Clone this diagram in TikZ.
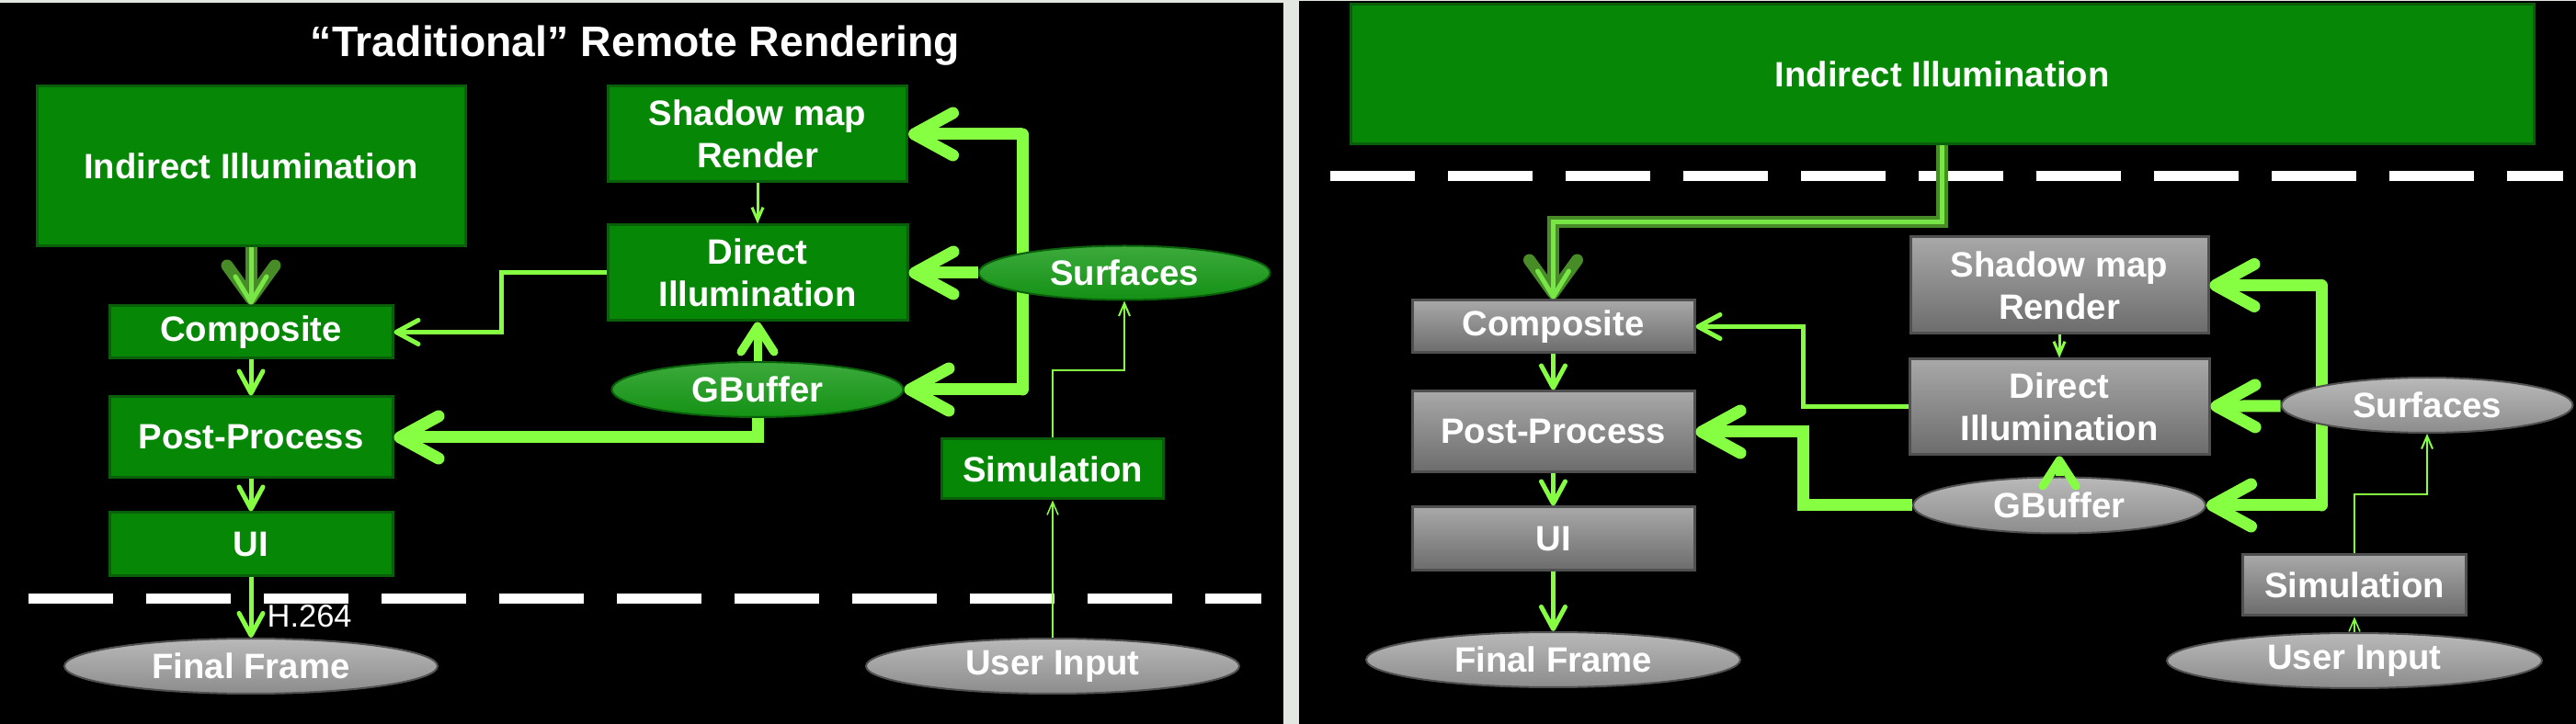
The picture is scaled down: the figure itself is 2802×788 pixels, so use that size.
\documentclass[tikz,border=0pt]{standalone}
\usepackage{fontspec}
\setmainfont{Liberation Sans}
\usetikzlibrary{arrows.meta,shapes.geometric}
\definecolor{lime}{RGB}{134,255,66}
\definecolor{blockgreen}{RGB}{6,136,6}
\definecolor{blockedge}{RGB}{10,95,10}
\definecolor{grayhi}{RGB}{168,168,168}
\definecolor{graylo}{RGB}{108,108,108}
\definecolor{grayedge}{RGB}{80,80,80}
\definecolor{gapgray}{RGB}{227,231,225}
\definecolor{linkdark}{RGB}{72,140,40}
\definecolor{linklight}{RGB}{120,230,70}
\newcommand\blockfont{\fontsize{10.9}{13}\selectfont\bfseries}
\tikzset{%
    every block/.style={
      rectangle,
      draw=blockedge,
      line width=0.3mm,
      fill=blockgreen,
      text=white,
      font=\blockfont,
      align=center,
      inner sep=0pt
    },
    gray block/.style={
      every block,
      draw=grayedge,
      top color=grayhi,
      bottom color=graylo
    },
    green oval/.style={
      ellipse,
      draw=blockedge,
      line width=0.2mm,
      top color={rgb,255:red,60;green,170;blue,60},
      middle color=blockgreen,
      bottom color={rgb,255:red,20;green,145;blue,20},
      text=white,
      font=\blockfont,
      inner sep=0pt
    },
    gray oval/.style={
      green oval,
      draw=grayedge,
      top color={rgb,255:red,185;green,185;blue,185},
      middle color={rgb,255:red,135;green,135;blue,135},
      bottom color={rgb,255:red,140;green,140;blue,140}
    },
    title/.style={
      text=white,
      font=\fontsize{13.2}{15}\selectfont\bfseries
    },
    thick link/.style={
      draw=lime,
      line width=1.3mm,
      >={Straight Barb[length=4.2mm,width=4.6mm,round]}
    },
    mid link/.style={
      draw=lime,
      line width=0.9mm,
      >={Straight Barb[length=2.8mm,width=3.6mm,round]}
    },
    thin link/.style={
      draw=lime,
      line width=0.5mm,
      >={Straight Barb[length=2.4mm,width=2.6mm,round]}
    },
    hair link/.style={
      draw=lime,
      line width=0.2mm,
      >={Straight Barb[length=1.4mm,width=1.2mm]}
    },
    outer link/.style={
      draw=linkdark,
      line width=1.3mm,
      >={Straight Barb[length=3.6mm,width=5.2mm,round]}
    },
    inner link/.style={
      draw=linklight,
      line width=0.5mm,
      >={Straight Barb[length=2.8mm,width=3.4mm,round]}
    },
    separator/.style={
      draw=white,
      line width=1.1mm,
      dash pattern=on 9.2mm off 3.6mm
    }
  }
\begin{document}
\begin{tikzpicture}[x=0.1mm, y=-0.1mm]
      \fill [gapgray] (0,0) rectangle (2802,788);
      \useasboundingbox (0,0) rectangle (2802,788);
      \fill [black] (0,3) rectangle (1396,788);
      \fill [black] (1413,1) rectangle (2802,788);

      \coordinate (dashL1) at (31,652);
      \coordinate (dashL2) at (1372,652);
      \coordinate (dashR1) at (1447,192);
      \coordinate (dashR2) at (2788,192);
      \draw [separator] (dashL1) -- (dashL2);
      \draw [separator] (dashR1) -- (dashR2);

      \coordinate (busTopL) at (1112,146);
      \coordinate (busBotL) at (1112,424);
      \coordinate (busTopR) at (2525,310.5);
      \coordinate (busBotR) at (2525,550);
      \draw [thick link, line cap=round] (busTopL) -- (busBotL);
      \draw [thick link, line cap=round] (busTopR) -- (busBotR);

      \node [title] (title) at (691,50) {“Traditional” Remote Rendering};

      \node [every block, minimum width=46.6mm, minimum height=17.4mm] (indL) at (273,181) {Indirect Illumination};
      \node [every block, minimum width=32.5mm, minimum height=10.4mm] (shadowL) at (824,146) {Shadow map\\Render};
      \node [every block, minimum width=32.6mm, minimum height=10.4mm] (directL) at (824,297) {Direct\\Illumination};
      \node [every block, minimum width=30.8mm, minimum height=5.7mm] (compL) at (273,361.5) {Composite};
      \node [every block, minimum width=30.8mm, minimum height=8.8mm] (postL) at (273,476) {Post-Process};
      \node [every block, minimum width=30.8mm, minimum height=6.9mm] (uiL) at (273,592.5) {UI};
      \node [every block, minimum width=24.1mm, minimum height=6.5mm] (simL) at (1145,510.5) {Simulation};
      \node [green oval, minimum width=31.7mm, minimum height=5.9mm] (surfL) at (1223,297) {Surfaces};
      \node [green oval, minimum width=31.7mm, minimum height=6mm] (gbufL) at (824,424) {GBuffer};
      \node [gray oval, minimum width=40.6mm, minimum height=6mm] (finalL) at (273,725) {Final Frame};
      \node [gray oval, minimum width=40.6mm, minimum height=6mm] (userL) at (1145,725) {User Input};
      \node [anchor=west, text=white, inner sep=0pt, font=\fontsize{9.8}{11}\selectfont] (h264) at (290,671) {H.264};

      \node [every block, minimum width=128.7mm, minimum height=15.2mm] (indR) at (2112.5,81) {Indirect Illumination};
      \node [gray block, minimum width=32.4mm, minimum height=10.5mm] (shadowR) at (2240,310.5) {Shadow map\\Render};
      \node [gray block, minimum width=32.6mm, minimum height=10.4mm] (directR) at (2240,443) {Direct\\Illumination};
      \node [gray block, minimum width=30.7mm, minimum height=5.7mm] (compR) at (1689.5,355.5) {Composite};
      \node [gray block, minimum width=30.7mm, minimum height=8.8mm] (postR) at (1689.5,470) {Post-Process};
      \node [gray block, minimum width=30.7mm, minimum height=6.9mm] (uiR) at (1689.5,586.5) {UI};
      \node [gray block, minimum width=24.3mm, minimum height=6.6mm] (simR) at (2561,637) {Simulation};
      \node [gray oval, minimum width=31.7mm, minimum height=6mm] (surfR) at (2640,441) {Surfaces};
      \node [gray oval, minimum width=31.8mm, minimum height=6.1mm] (gbufR) at (2240,550) {GBuffer};
      \node [gray oval, minimum width=40.7mm, minimum height=6mm] (finalR) at (1689.5,718) {Final Frame};
      \node [gray oval, minimum width=40.8mm, minimum height=6mm] (userR) at (2561,719) {User Input};

      \coordinate (colL) at (545,330);
      \coordinate (turnSL) at (1145,403);
      \coordinate (turnIR) at (2112.5,242);
      \coordinate (colR) at (1961,400);
      \coordinate (colGR) at (1961,510);
      \coordinate (turnSR) at (2561,538);

      \draw [outer link, ->] (indL) -- (compL);
      \draw [inner link, ->] (indL) -- (compL);
      \draw [hair link, line width=0.3mm, ->] (shadowL) -- (directL);
      \draw [thin link, ->] (directL.west) -| (colL) |- (compL.east);
      \draw [thin link, ->] (compL) -- (postL);
      \draw [thin link, ->] (postL) -- (uiL);
      \draw [thin link, ->] (uiL) -- (finalL);
      \draw [thick link, ->] (gbufL.south) |- (postL.east);
      \draw [mid link, ->] (gbufL) -- (directL);
      \draw [thick link, ->] (busTopL) -- (shadowL.east);
      \draw [thick link, ->] (busBotL) -- (gbufL.east);
      \draw [thick link, ->] (surfL) -- (directL);
      \draw [hair link, line width=0.15mm, ->] (userL) -- (simL);
      \draw [hair link, ->] (simL.north) -- (turnSL) -| (surfL.south);

      \draw [outer link, ->] (indR.south) -- (turnIR) -| (compR.north);
      \draw [inner link, ->] (indR.south) -- (turnIR) -| (compR.north);
      \draw [hair link, line width=0.3mm, ->] (shadowR) -- (directR);
      \draw [thin link, ->] (directR.west) -| (colR) |- (compR.east);
      \draw [thin link, ->] (compR) -- (postR);
      \draw [thin link, ->] (postR) -- (uiR);
      \draw [thin link, ->] (uiR) -- (finalR);
      \draw [thick link, ->] (gbufR.west) -| (colGR) |- (postR.east);
      \draw [mid link, ->] (gbufR) -- (directR);
      \draw [thick link, ->] (busTopR) -- (shadowR.east);
      \draw [thick link, ->] (busBotR) -- (gbufR.east);
      \draw [thick link, ->] (surfR) -- (directR);
      \draw [hair link, line width=0.15mm, ->] (userR) -- (simR);
      \draw [hair link, ->] (simR.north) -- (turnSR) -| (surfR.south);

    \end{tikzpicture}
\end{document}
